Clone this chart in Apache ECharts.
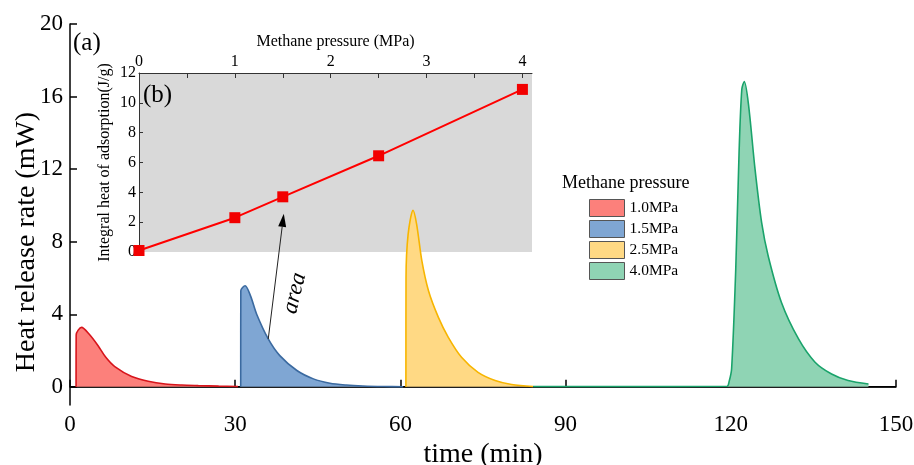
<!DOCTYPE html>
<html>
<head>
<meta charset="utf-8">
<script src="https://cdn.jsdelivr.net/npm/echarts@6/dist/echarts.min.js"></script>
<style>
  html, body { margin: 0; padding: 0; background: #ffffff; }
  #chart { width: 914px; height: 465px; }
</style>
</head>
<body>
<div id="chart"></div>
<script>
// Heat release rate curves (time in min, rate in mW) for each methane pressure
const seriesNames = ['1.0MPa', '1.5MPa', '2.5MPa', '4.0MPa'];

const curve10 = [
  [1.1, 0], [1.12, 2.86], [2.1, 3.28], [3.5, 2.9], [5.1, 2.27], [6.5, 1.63],
  [8.2, 1.1], [11.2, 0.57], [14.2, 0.31], [17.3, 0.16], [20.3, 0.1],
  [23.3, 0.07], [27, 0.04], [30.5, 0.02]
];
const curve15 = [
  [31.0, 0], [31.02, 5.3], [31.8, 5.57], [32.8, 5.0], [33.9, 4.0], [36.0, 2.64],
  [38.1, 1.72], [41.2, 0.9], [44.2, 0.44], [47.2, 0.2], [50.2, 0.1],
  [53.2, 0.05], [57, 0.02], [60.5, 0.01]
];
const curve25 = [
  [61.0, 0], [61.02, 6.0], [61.4, 8.4], [62.3, 9.73], [62.95, 8.96], [63.9, 6.94],
  [65.1, 5.3], [66.9, 3.83], [68.7, 2.73], [71.1, 1.63], [74.1, 0.8],
  [77.2, 0.35], [80.2, 0.13], [84.1, 0.02]
];
const curve40 = [
  [84.1, 0.02], [100, 0.02], [119.3, 0.03], [119.7, 0.3], [120.15, 1.0],
  [120.9, 6.5], [121.5, 12.9], [122.0, 16.4], [122.45, 16.83], [123.2, 15.6],
  [124.4, 12.0], [125.6, 9.05], [126.8, 7.2], [129.2, 4.65], [132.3, 2.64],
  [135.3, 1.36], [138.3, 0.71], [141.3, 0.35], [145.0, 0.16]
];
const curves = [curve10, curve15, curve25, curve40];

const baseline = [[0, 0], [150, 0]];
const mainYTicks = [0, 4, 8, 12, 16, 20];

// Inset (b): integral heat of adsorption vs methane pressure
const insetPressure = [0, 1, 1.5, 2.5, 4];
const insetHeat = [0.1, 2.3, 3.7, 6.45, 10.9];
const insetXTicks = [0, 0.5, 1, 1.5, 2, 2.5, 3, 3.5, 4];
const insetXLabels = [0, 1, 2, 3, 4];

// Point on the 1.5 MPa curve where the arrow starts
const arrowFrom = [36.0, 2.64];

const FONT = '"Liberation Serif", "Times New Roman", serif';
const lineColors = ['#d7141b', '#3b6aa0', '#f7b500', '#1aa36b'];
const fillColors = ['#fc807b', '#7fa6d3', '#ffd984', '#8fd4b4'];

const chart = echarts.init(document.getElementById('chart'), null, { renderer: 'canvas' });

const mainSeries = curves.map((c, i) => ({
  name: seriesNames[i],
  type: 'line',
  xAxisIndex: 0,
  yAxisIndex: 0,
  data: c,
  smooth: 0.3,
  showSymbol: false,
  z: 3,
  lineStyle: { color: lineColors[i], width: 1.6 },
  itemStyle: { color: fillColors[i] },
  areaStyle: { color: fillColors[i], opacity: 1 }
}));

const option = {
  animation: false,
  backgroundColor: '#ffffff',
  textStyle: { fontFamily: FONT, color: '#000' },
  grid: [
    { left: 70, top: 24, right: 18, bottom: 60, outerBoundsMode: 'none', containLabel: false },
    { left: 139, top: 73, width: 393, height: 179, show: true, outerBoundsMode: 'none',
      containLabel: false, backgroundColor: '#d9d9d9', borderWidth: 0, z: 0 }
  ],
  legend: {
    orient: 'vertical',
    left: 589,
    top: 199,
    padding: 0,
    icon: 'rect',
    itemWidth: 35,
    itemHeight: 17,
    itemGap: 3,
    textStyle: { fontFamily: FONT, fontSize: 15.5, color: '#000' },
    data: seriesNames.map((n, i) => ({
      name: n,
      itemStyle: { color: fillColors[i], borderColor: '#555', borderWidth: 1 }
    }))
  },
  xAxis: [
    {
      type: 'value', gridIndex: 0, min: 0, max: 150, interval: 30,
      name: 'time (min)', nameLocation: 'middle', nameGap: 30,
      nameTextStyle: { fontFamily: FONT, fontSize: 28, color: '#000' },
      axisLine: { lineStyle: { color: '#000', width: 1.5 } },
      axisTick: { inside: true, length: 7, lineStyle: { color: '#000', width: 1.5 } },
      axisLabel: { fontFamily: FONT, fontSize: 23, color: '#000', margin: 8 },
      splitLine: { show: false }
    },
    {
      type: 'value', gridIndex: 1, position: 'top', min: 0, max: 4.1,
      name: 'Methane pressure (MPa)', nameLocation: 'middle', nameGap: 23,
      nameTextStyle: { fontFamily: FONT, fontSize: 16, color: '#000' },
      axisLine: { onZero: false, lineStyle: { color: '#333', width: 1 } },
      axisTick: { inside: true, length: 5, customValues: insetXTicks,
        lineStyle: { color: '#333', width: 1 } },
      axisLabel: { fontFamily: FONT, fontSize: 16, color: '#000', margin: 3,
        customValues: insetXLabels },
      splitLine: { show: false }
    }
  ],
  yAxis: [
    {
      type: 'value', gridIndex: 0, min: -1, max: 20,
      axisLine: { onZero: false, lineStyle: { color: '#000', width: 1.5 } },
      axisTick: { inside: true, length: 7, customValues: mainYTicks,
        lineStyle: { color: '#000', width: 1.5 } },
      axisLabel: { fontFamily: FONT, fontSize: 23, color: '#000', margin: 7,
        customValues: mainYTicks },
      splitLine: { show: false }
    },
    {
      type: 'value', gridIndex: 1, min: 0, max: 12, interval: 2,
      name: 'Integral heat of adsorption(J/g)', nameLocation: 'middle', nameGap: 26,
      nameTextStyle: { fontFamily: FONT, fontSize: 16, color: '#000' },
      axisLine: { onZero: false, lineStyle: { color: '#333', width: 1 } },
      axisTick: { inside: true, length: 4, lineStyle: { color: '#333', width: 1 } },
      axisLabel: { fontFamily: FONT, fontSize: 16, color: '#000', margin: 3 },
      splitLine: { show: false }
    }
  ],
  series: [
    {
      name: 'baseline', type: 'line', xAxisIndex: 0, yAxisIndex: 0,
      data: baseline, showSymbol: false, silent: true, z: 2,
      lineStyle: { color: '#000', width: 1.5 }
    },
    ...mainSeries,
    {
      name: 'integral heat', type: 'line', xAxisIndex: 1, yAxisIndex: 1,
      data: insetPressure.map((p, i) => [p, insetHeat[i]]),
      symbol: 'rect', symbolSize: 11, showSymbol: true, z: 5,
      lineStyle: { color: '#ff0000', width: 2 },
      itemStyle: { color: '#f20000' }
    }
  ]
};

chart.setOption(option);

// Annotations: panel labels, axis title, legend heading and the "area" arrow
const tail = chart.convertToPixel({ xAxisIndex: 0, yAxisIndex: 0 }, arrowFrom);
const target = chart.convertToPixel({ xAxisIndex: 1, yAxisIndex: 1 }, [insetPressure[2], insetHeat[2]]);
const tip = [target[0] + 1, target[1] + 17];
const dx = tip[0] - tail[0], dy = tip[1] - tail[1];
const len = Math.sqrt(dx * dx + dy * dy);
const ux = dx / len, uy = dy / len;
const headLen = 13, headHalf = 4;
const base = [tip[0] - ux * headLen, tip[1] - uy * headLen];
const head = [
  tip,
  [base[0] - uy * headHalf, base[1] + ux * headHalf],
  [base[0] + uy * headHalf, base[1] - ux * headHalf]
];
const mid = [tail[0] + dx * 0.35 + 21, tail[1] + dy * 0.35 - 2];

chart.setOption({
  graphic: [
    { type: 'text', x: 27, y: 242, rotation: Math.PI / 2, z: 10,
      style: { text: 'Heat release rate (mW)', font: '28px ' + FONT, fill: '#000',
        align: 'center', verticalAlign: 'middle' } },
    { type: 'text', left: 73, top: 31, z: 10,
      style: { text: '(a)', font: '25px ' + FONT, fill: '#000' } },
    { type: 'text', left: 143, top: 83, z: 10,
      style: { text: '(b)', font: '25px ' + FONT, fill: '#000' } },
    { type: 'text', left: 562, top: 174, z: 10,
      style: { text: 'Methane pressure', font: '18px ' + FONT, fill: '#000' } },
    { type: 'line', z: 10,
      shape: { x1: tail[0], y1: tail[1], x2: base[0], y2: base[1] },
      style: { stroke: '#222', lineWidth: 1 } },
    { type: 'polygon', z: 10, shape: { points: head }, style: { fill: '#000' } },
    { type: 'text', x: mid[0], y: mid[1], rotation: 1.33, z: 10,
      style: { text: 'area', font: 'italic 23px ' + FONT, fill: '#000',
        align: 'center', verticalAlign: 'middle' } }
  ]
});
</script>
</body>
</html>
